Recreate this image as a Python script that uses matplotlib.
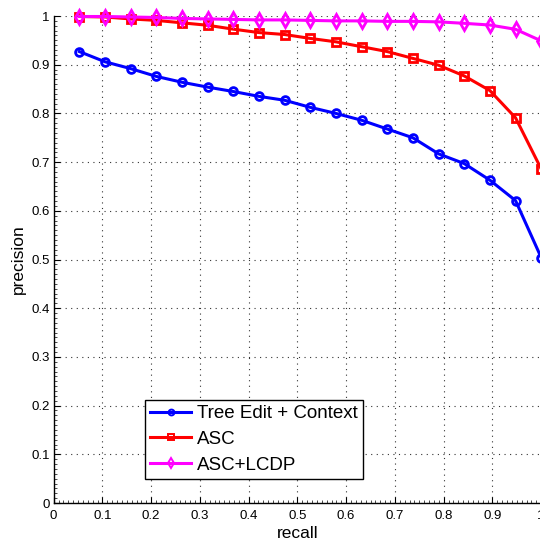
import matplotlib
matplotlib.use("Agg")
import matplotlib.pyplot as plt
from matplotlib.ticker import MultipleLocator

plt.rcParams['font.family'] = ['Liberation Sans', 'DejaVu Sans']

recall = [0.0526, 0.1053, 0.1579, 0.2105, 0.2632, 0.3158, 0.3684, 0.4211,
          0.4737, 0.5263, 0.5789, 0.6316, 0.6842, 0.7368, 0.7895, 0.8421,
          0.8947, 0.9474, 1.0]

tree_edit = [0.927, 0.906, 0.892, 0.876, 0.864, 0.854, 0.845, 0.835, 0.827,
             0.8125, 0.800, 0.786, 0.768, 0.750, 0.717, 0.697, 0.663, 0.621, 0.504]

asc = [0.999, 0.998, 0.994, 0.991, 0.986, 0.981, 0.973, 0.966, 0.962,
       0.954, 0.947, 0.937, 0.927, 0.913, 0.899, 0.877, 0.847, 0.791, 0.686]

asc_lcdp = [0.999, 0.999, 0.998, 0.997, 0.995, 0.994, 0.993, 0.992, 0.992,
            0.991, 0.990, 0.990, 0.989, 0.989, 0.988, 0.985, 0.9815, 0.9727, 0.949]

labels = ['Tree Edit + Context', 'ASC', 'ASC+LCDP']
colors = ['#0000ff', '#ff0000', '#ff00ff']
markers = ['o', 's', 'd']

xticks = [0, 0.1, 0.2, 0.3, 0.4, 0.5, 0.6, 0.7, 0.8, 0.9, 1]
xticklabels = ['0', '0.1', '0.2', '0.3', '0.4', '0.5', '0.6', '0.7', '0.8', '0.9', '1']
yticks = xticks
yticklabels = xticklabels

fig = plt.figure(figsize=(5.40, 5.41), dpi=100)
ax = fig.add_axes([0.0994, 0.0702, 0.9028, 0.9002])

sizes = {'o': 5.6, 's': 5.4, 'd': 7.0}
for ys, lab, c, m in zip([tree_edit, asc, asc_lcdp], labels, colors, markers):
    ax.plot(recall, ys, color=c, marker=m, markersize=sizes[m], markerfacecolor='none',
            markeredgecolor=c, markeredgewidth=2.0, linewidth=2.2, label=lab,
            clip_on=False, zorder=3)

ax.set_xlim(0, 1)
ax.set_ylim(0, 1)
ax.set_xticks(xticks)
ax.set_xticklabels(xticklabels)
ax.set_yticks(yticks)
ax.set_yticklabels(yticklabels)
ax.xaxis.set_minor_locator(MultipleLocator(0.01))
ax.yaxis.set_minor_locator(MultipleLocator(0.01))
ax.tick_params(which='major', direction='in', length=4, width=0.8, labelsize=9.5)
ax.tick_params(axis='x', which='major', pad=5)
ax.tick_params(axis='y', which='major', pad=3)
ax.tick_params(which='minor', direction='in', length=2, width=0.5)
ax.grid(True, which='major', linestyle=(0, (1, 4)), color='#333333', linewidth=0.8)
ax.set_axisbelow(True)
for s in ['top', 'right']:
    ax.spines[s].set_visible(False)
for s in ['left', 'bottom']:
    ax.spines[s].set_linewidth(1.0)

ax.set_xlabel('recall', fontsize=12.5, labelpad=3)
ax.set_ylabel('precision', fontsize=12.5, labelpad=4)

leg = ax.legend(loc='lower left', bbox_to_anchor=(0.1865, 0.049), borderaxespad=0,
                fontsize=13.5, fancybox=False, framealpha=1, edgecolor='black',
                handlelength=2.2, labelspacing=0.45, borderpad=0.3, handletextpad=0.3,
                markerscale=0.75)
leg.get_frame().set_linewidth(1.0)
for h in leg.legend_handles:
    h.set_markeredgewidth(1.4)
    h.set_markerfacecolor('none')

fig.savefig('out.png', dpi=100)
